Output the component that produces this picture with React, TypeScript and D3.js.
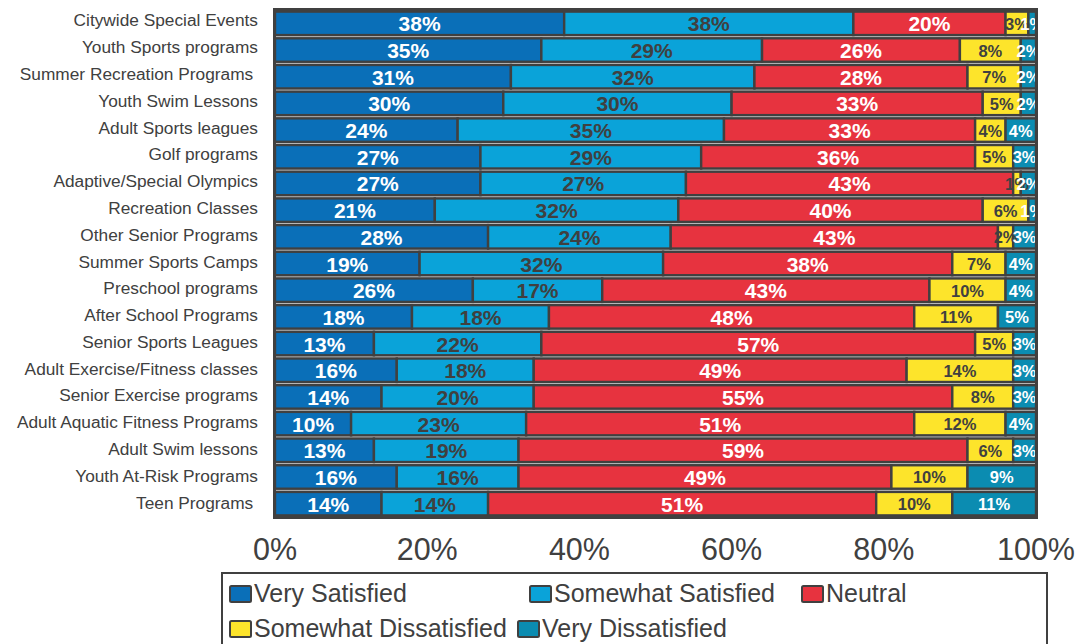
import React from "react";
import * as d3 from "d3";

const categories = [
  "Citywide Special Events",
  "Youth Sports programs",
  "Summer Recreation Programs ",
  "Youth Swim Lessons",
  "Adult Sports leagues",
  "Golf programs",
  "Adaptive/Special Olympics",
  "Recreation Classes",
  "Other Senior Programs",
  "Summer Sports Camps",
  "Preschool programs",
  "After School Programs",
  "Senior Sports Leagues",
  "Adult Exercise/Fitness classes",
  "Senior Exercise programs",
  "Adult Aquatic Fitness Programs",
  "Adult Swim lessons",
  "Youth At-Risk Programs",
  "Teen Programs ",
];

const seriesNames = [
  "Very Satisfied",
  "Somewhat Satisfied",
  "Neutral",
  "Somewhat Dissatisfied",
  "Very Dissatisfied",
];

const verySatisfied = [38, 35, 31, 30, 24, 27, 27, 21, 28, 19, 26, 18, 13, 16, 14, 10, 13, 16, 14];
const somewhatSatisfied = [38, 29, 32, 30, 35, 29, 27, 32, 24, 32, 17, 18, 22, 18, 20, 23, 19, 16, 14];
const neutral = [20, 26, 28, 33, 33, 36, 43, 40, 43, 38, 43, 48, 57, 49, 55, 51, 59, 49, 51];
const somewhatDissatisfied = [3, 8, 7, 5, 4, 5, 1, 6, 2, 7, 10, 11, 5, 14, 8, 12, 6, 10, 10];
const veryDissatisfied = [1, 2, 2, 2, 4, 3, 2, 1, 3, 4, 4, 5, 3, 3, 3, 4, 3, 9, 11];

const xTicks = [0, 20, 40, 60, 80, 100];

const seriesValues = [verySatisfied, somewhatSatisfied, neutral, somewhatDissatisfied, veryDissatisfied];
const colors = ["#0a6fb8", "#0aa3d9", "#e7333f", "#fde42b", "#0b8cb1"];
const labelColors = ["#ffffff", "#404040", "#ffffff", "#404040", "#ffffff"];
const labelSizes = [21, 21, 21, 16.5, 16.5];

const W = 1081;
const H = 644;
const plot = { left: 275, right: 1036, top: 10, bottom: 517 };
const dark = "#404040";
const FONT = "'Liberation Sans', Arial, sans-serif";

export default function App() {
  const x = d3.scaleLinear().domain([0, 100]).range([plot.left, plot.right]);
  const y = d3.scaleBand<string>().domain(categories).range([plot.top, plot.bottom]).padding(0);
  const yLab = d3.scaleBand<string>().domain(categories).range([7, 516]).padding(0);
  const bw = y.bandwidth();

  const stack = d3
    .stack<number>()
    .keys(seriesNames.map((_, i) => String(i)))
    .value((rowIdx, key) => seriesValues[+key][rowIdx]);
  const stacked = stack(categories.map((_, i) => i));

  const legendItems = [
    { i: 0, x: 230, y: 602 },
    { i: 1, x: 530, y: 602 },
    { i: 2, x: 802, y: 602 },
    { i: 3, x: 230, y: 637 },
    { i: 4, x: 518, y: 637 },
  ];

  return (
    <svg width={W} height={H} style={{ position: "absolute", left: 0, top: 0, background: "#fff" }} fontFamily={FONT}>
      <rect x={0} y={0} width={W} height={H} fill="#fff" />
      <rect x={plot.left} y={plot.top} width={plot.right - plot.left} height={plot.bottom - plot.top} fill="#d4d4d4" />
      {stacked.map((layer, si) => (
        <g key={si}>
          {layer.map((d, ri) => {
            const cat = categories[ri];
            const x0 = x(d[0]);
            const x1 = x(d[1]);
            const yy = (y(cat) as number) + 1.6;
            const h = bw - 3.2;
            return (
              <rect key={ri} x={x0} y={yy} width={Math.max(0, x1 - x0)} height={h} fill={colors[si]} stroke={dark} strokeWidth={2.4} />
            );
          })}
        </g>
      ))}
      {stacked.map((layer, si) => (
        <g key={"l" + si}>
          {layer.map((d, ri) => {
            const cat = categories[ri];
            const cx = (x(d[0]) + x(d[1])) / 2;
            const cy = (y(cat) as number) + bw / 2 + 0.5;
            return (
              <text
                key={ri}
                x={cx}
                y={cy}
                textAnchor="middle"
                dominantBaseline="central"
                fontWeight="bold"
                fontSize={labelSizes[si]}
                fill={labelColors[si]}
              >
                {`${d[1] - d[0]}%`}
              </text>
            );
          })}
        </g>
      ))}
      <rect
        x={plot.left - 0.5}
        y={plot.top - 0.5}
        width={plot.right - plot.left + 1}
        height={plot.bottom - plot.top + 1}
        fill="none"
        stroke={dark}
        strokeWidth={3}
      />
      {categories.map((c) => (
        <text
          key={c}
          x={258}
          y={(yLab(c) as number) + yLab.bandwidth() / 2}
          textAnchor="end"
          dominantBaseline="central"
          fontSize={17.3}
          fill={dark}
          style={{ whiteSpace: "pre" }}
        >
          {c}
        </text>
      ))}
      {xTicks.map((t) => (
        <text key={t} x={x(t)} y={560} textAnchor="middle" fontSize={30.5} fill={dark}>
          {`${t}%`}
        </text>
      ))}
      <rect x={222} y={573} width={825} height={90} fill="#fff" stroke={dark} strokeWidth={2} />
      {legendItems.map((it) => (
        <g key={it.i}>
          <rect x={it.x} y={it.y - 16} width={21} height={16} rx={1.5} fill={colors[it.i]} stroke={dark} strokeWidth={2} />
          <text x={it.x + 24} y={it.y} fontSize={25} fill={dark}>
            {seriesNames[it.i]}
          </text>
        </g>
      ))}
    </svg>
  );
}
